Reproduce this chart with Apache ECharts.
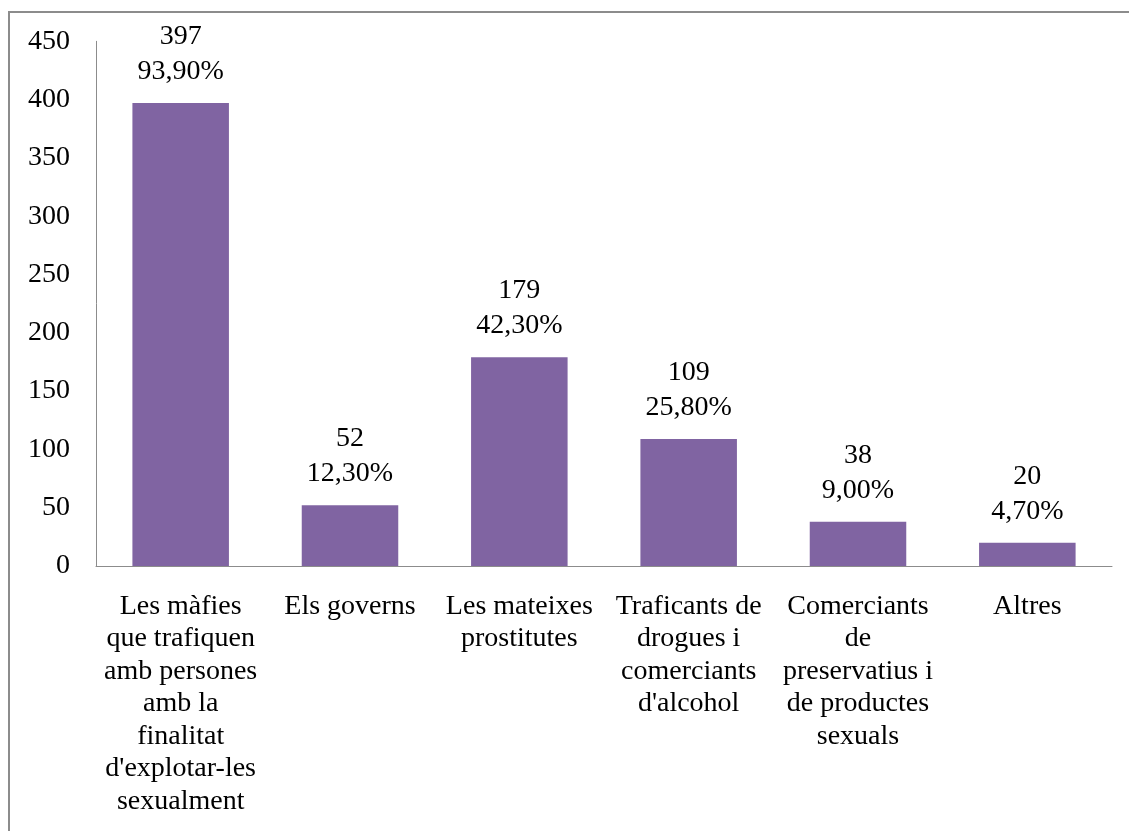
<!DOCTYPE html>
<html>
<head>
<meta charset="utf-8">
<script src="https://cdn.jsdelivr.net/npm/echarts@6/dist/echarts.min.js"></script>
<style>
html,body{margin:0;padding:0;background:#fff;}
#c{width:1129px;height:831px;}
</style>
</head>
<body>
<div id="c"></div>
<script>
const categories = [
  "Les màfies\nque trafiquen\namb persones\namb la\nfinalitat\nd'explotar-les\nsexualment",
  "Els governs",
  "Les mateixes\nprostitutes",
  "Traficants de\ndrogues i\ncomerciants\nd'alcohol",
  "Comerciants\nde\npreservatius i\nde productes\nsexuals",
  "Altres"
];
const values = [397, 52, 179, 109, 38, 20];
const percents = ["93,90%", "12,30%", "42,30%", "25,80%", "9,00%", "4,70%"];

const font = "'Liberation Serif', 'Times New Roman', serif";
const chart = echarts.init(document.getElementById('c'));
chart.setOption({
  animation: false,
  textStyle: {fontFamily: font},
  graphic: [{
    type: 'rect', silent: true,
    shape: {x: 9, y: 12, width: 1300, height: 1000},
    style: {fill: 'none', stroke: '#8c8c8c', lineWidth: 2}
  }],
  grid: {left: 96, right: 17, top: 41.3, bottom: 265, containLabel: false},
  xAxis: {
    type: 'category',
    data: categories,
    axisLine: {lineStyle: {color: '#8c8c8c', width: 1}},
    axisTick: {show: false},
    axisLabel: {
      interval: 0, color: '#000', fontFamily: font, fontSize: 28,
      lineHeight: 32.5, margin: 24
    }
  },
  yAxis: {
    type: 'value', min: 0, max: 450, interval: 50,
    splitLine: {show: false},
    axisLine: {show: true, lineStyle: {color: '#8c8c8c', width: 1}},
    axisTick: {show: false},
    axisLabel: {color: '#000', fontFamily: font, fontSize: 28, margin: 26}
  },
  series: [{
    type: 'bar',
    data: values,
    barCategoryGap: '43%',
    itemStyle: {color: '#8064A2'},
    label: {
      show: true, position: 'top', distance: 14,
      color: '#000', fontFamily: font, fontSize: 28, lineHeight: 35,
      formatter: p => values[p.dataIndex] + '\n' + percents[p.dataIndex]
    }
  }]
});
</script>
</body>
</html>
